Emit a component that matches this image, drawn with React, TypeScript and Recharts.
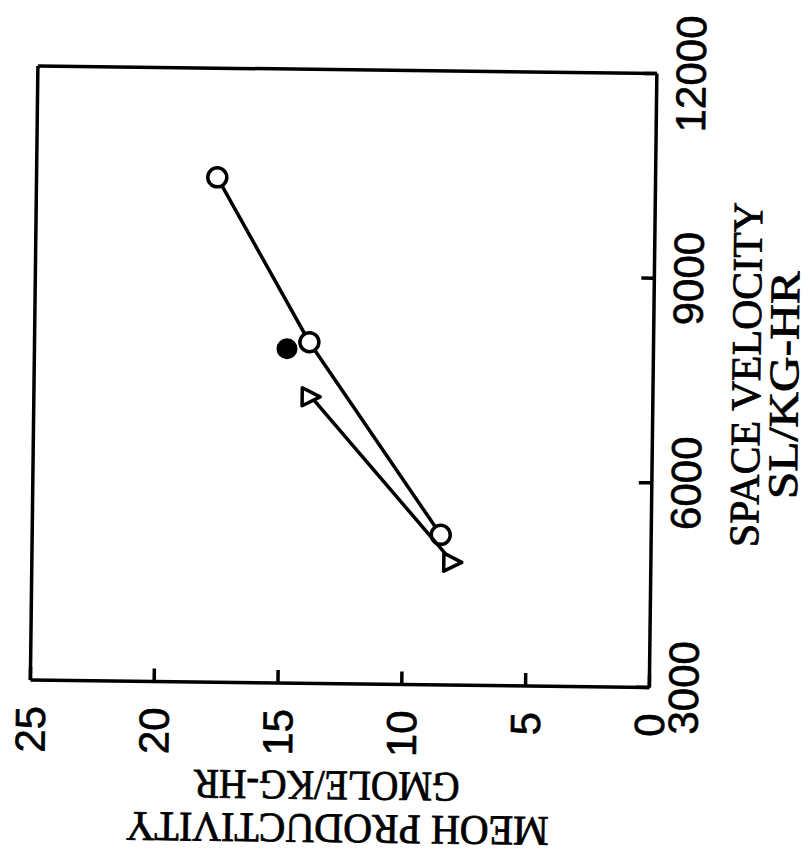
import { ScatterChart, Scatter, XAxis, YAxis, Label } from 'recharts';

const openCircleVelocity = [10400, 8000, 5200];
const openCircleProd = [17.7, 13.9, 8.5];
const filledCircleVelocity = [7900];
const filledCircleProd = [14.8];
const triangleVelocity = [7200, 4800];
const triangleProd = [13.8, 8.0];

const velocityTicks = [3000, 6000, 9000, 12000];
const prodTicks = [0, 5, 10, 15, 20, 25];

const toPoints = (xs: number[], ys: number[]) => xs.map((x, i) => ({ x, y: ys[i] }));

const openData = toPoints(openCircleVelocity, openCircleProd);
const filledData = toPoints(filledCircleVelocity, filledCircleProd);
const triangleData = toPoints(triangleVelocity, triangleProd);

const INK = '#000';
const TICK_FONT = { fontSize: 42, fill: INK, fontFamily: 'Liberation Sans', stroke: INK, strokeWidth: 0.6 };
const frame = { stroke: INK, strokeWidth: 3.5 };

const OpenCircle = (p: any) => (
  <circle cx={p.cx} cy={p.cy} r={9.5} fill="#fff" stroke={INK} strokeWidth={3.5} />
);
const FilledCircle = (p: any) => <circle cx={p.cx} cy={p.cy} r={10.5} fill={INK} />;
const DownTriangle = (p: any) => {
  const { cx, cy } = p;
  return (
    <polygon
      points={`${cx - 9},${cy - 9} ${cx + 9},${cy - 9} ${cx},${cy + 9}`}
      fill="#fff"
      stroke={INK}
      strokeWidth={3.5}
      strokeLinejoin="round"
    />
  );
};

function XTitle(props: any) {
  const { x, y, width } = props.viewBox;
  const cx = x + width / 2;
  return (
    <g fontFamily="Liberation Serif" fontSize={42} fill={INK} stroke={INK} strokeWidth={0.8}>
      <text x={cx + 7} y={y + 107} textAnchor="middle" textLength={345} lengthAdjust="spacingAndGlyphs">
        SPACE VELOCITY
      </text>
      <text x={cx - 3} y={y + 145} textAnchor="middle" textLength={228} lengthAdjust="spacingAndGlyphs">
        SL/KG-HR
      </text>
    </g>
  );
}

function YTitle(props: any) {
  const { y, height } = props.viewBox;
  const cy = y + height / 2;
  const a = cy - 1;
  const b = cy - 12;
  return (
    <g fontFamily="Liberation Serif" fontSize={42} fill={INK} stroke={INK} strokeWidth={0.8}>
      <text x={40} y={a} transform={`rotate(-90, 40, ${a})`} textAnchor="middle" textLength={423} lengthAdjust="spacingAndGlyphs">
        MEOH PRODUCTIVITY
      </text>
      <text x={83} y={b} transform={`rotate(-90, 83, ${b})`} textAnchor="middle" textLength={266} lengthAdjust="spacingAndGlyphs">
        GMOLE/KG-HR
      </text>
    </g>
  );
}

export default function App() {
  return (
    <div style={{ position: 'fixed', left: 0, top: 0, width: 810, height: 855, background: '#fff', overflow: 'hidden' }}>
      <div
        style={{
          position: 'absolute',
          left: -22.5,
          top: 22.5,
          width: 855,
          height: 810,
          transform: 'rotate(-89.3deg)',
          transformOrigin: 'center',
        }}
      >
        <ScatterChart width={855} height={810} margin={{ top: 32, right: 69, bottom: 0, left: 0 }}>
          <XAxis
            xAxisId="b"
            type="number"
            dataKey="x"
            domain={[3000, 12000]}
            ticks={velocityTicks}
            interval={0}
            height={158}
            tickSize={-13}
            tickMargin={32}
            axisLine={frame}
            tickLine={frame}
            tick={TICK_FONT}
          >
            <Label content={XTitle} />
          </XAxis>
          <XAxis
            xAxisId="t"
            orientation="top"
            type="number"
            domain={[3000, 12000]}
            ticks={velocityTicks}
            interval={0}
            height={1}
            tickSize={-13}
            axisLine={frame}
            tickLine={frame}
            tickFormatter={() => ''}
          />
          <YAxis
            yAxisId="l"
            type="number"
            dataKey="y"
            domain={[0, 25]}
            ticks={prodTicks}
            interval={0}
            width={171}
            tickSize={-13}
            tickMargin={39}
            axisLine={frame}
            tickLine={frame}
            tick={TICK_FONT}
          >
            <Label content={YTitle} />
          </YAxis>
          <YAxis
            yAxisId="r"
            orientation="right"
            type="number"
            domain={[0, 25]}
            ticks={prodTicks}
            interval={0}
            width={1}
            tickSize={-13}
            axisLine={frame}
            tickLine={frame}
            tickFormatter={() => ''}
          />
          <Scatter
            xAxisId="b"
            yAxisId="l"
            data={openData}
            line={{ stroke: INK, strokeWidth: 3.5 }}
            shape={OpenCircle}
            isAnimationActive={false}
          />
          <Scatter
            xAxisId="b"
            yAxisId="l"
            data={triangleData}
            line={{ stroke: INK, strokeWidth: 3.5 }}
            shape={DownTriangle}
            isAnimationActive={false}
          />
          <Scatter
            xAxisId="b"
            yAxisId="l"
            data={filledData}
            shape={FilledCircle}
            isAnimationActive={false}
          />
        </ScatterChart>
      </div>
    </div>
  );
}
